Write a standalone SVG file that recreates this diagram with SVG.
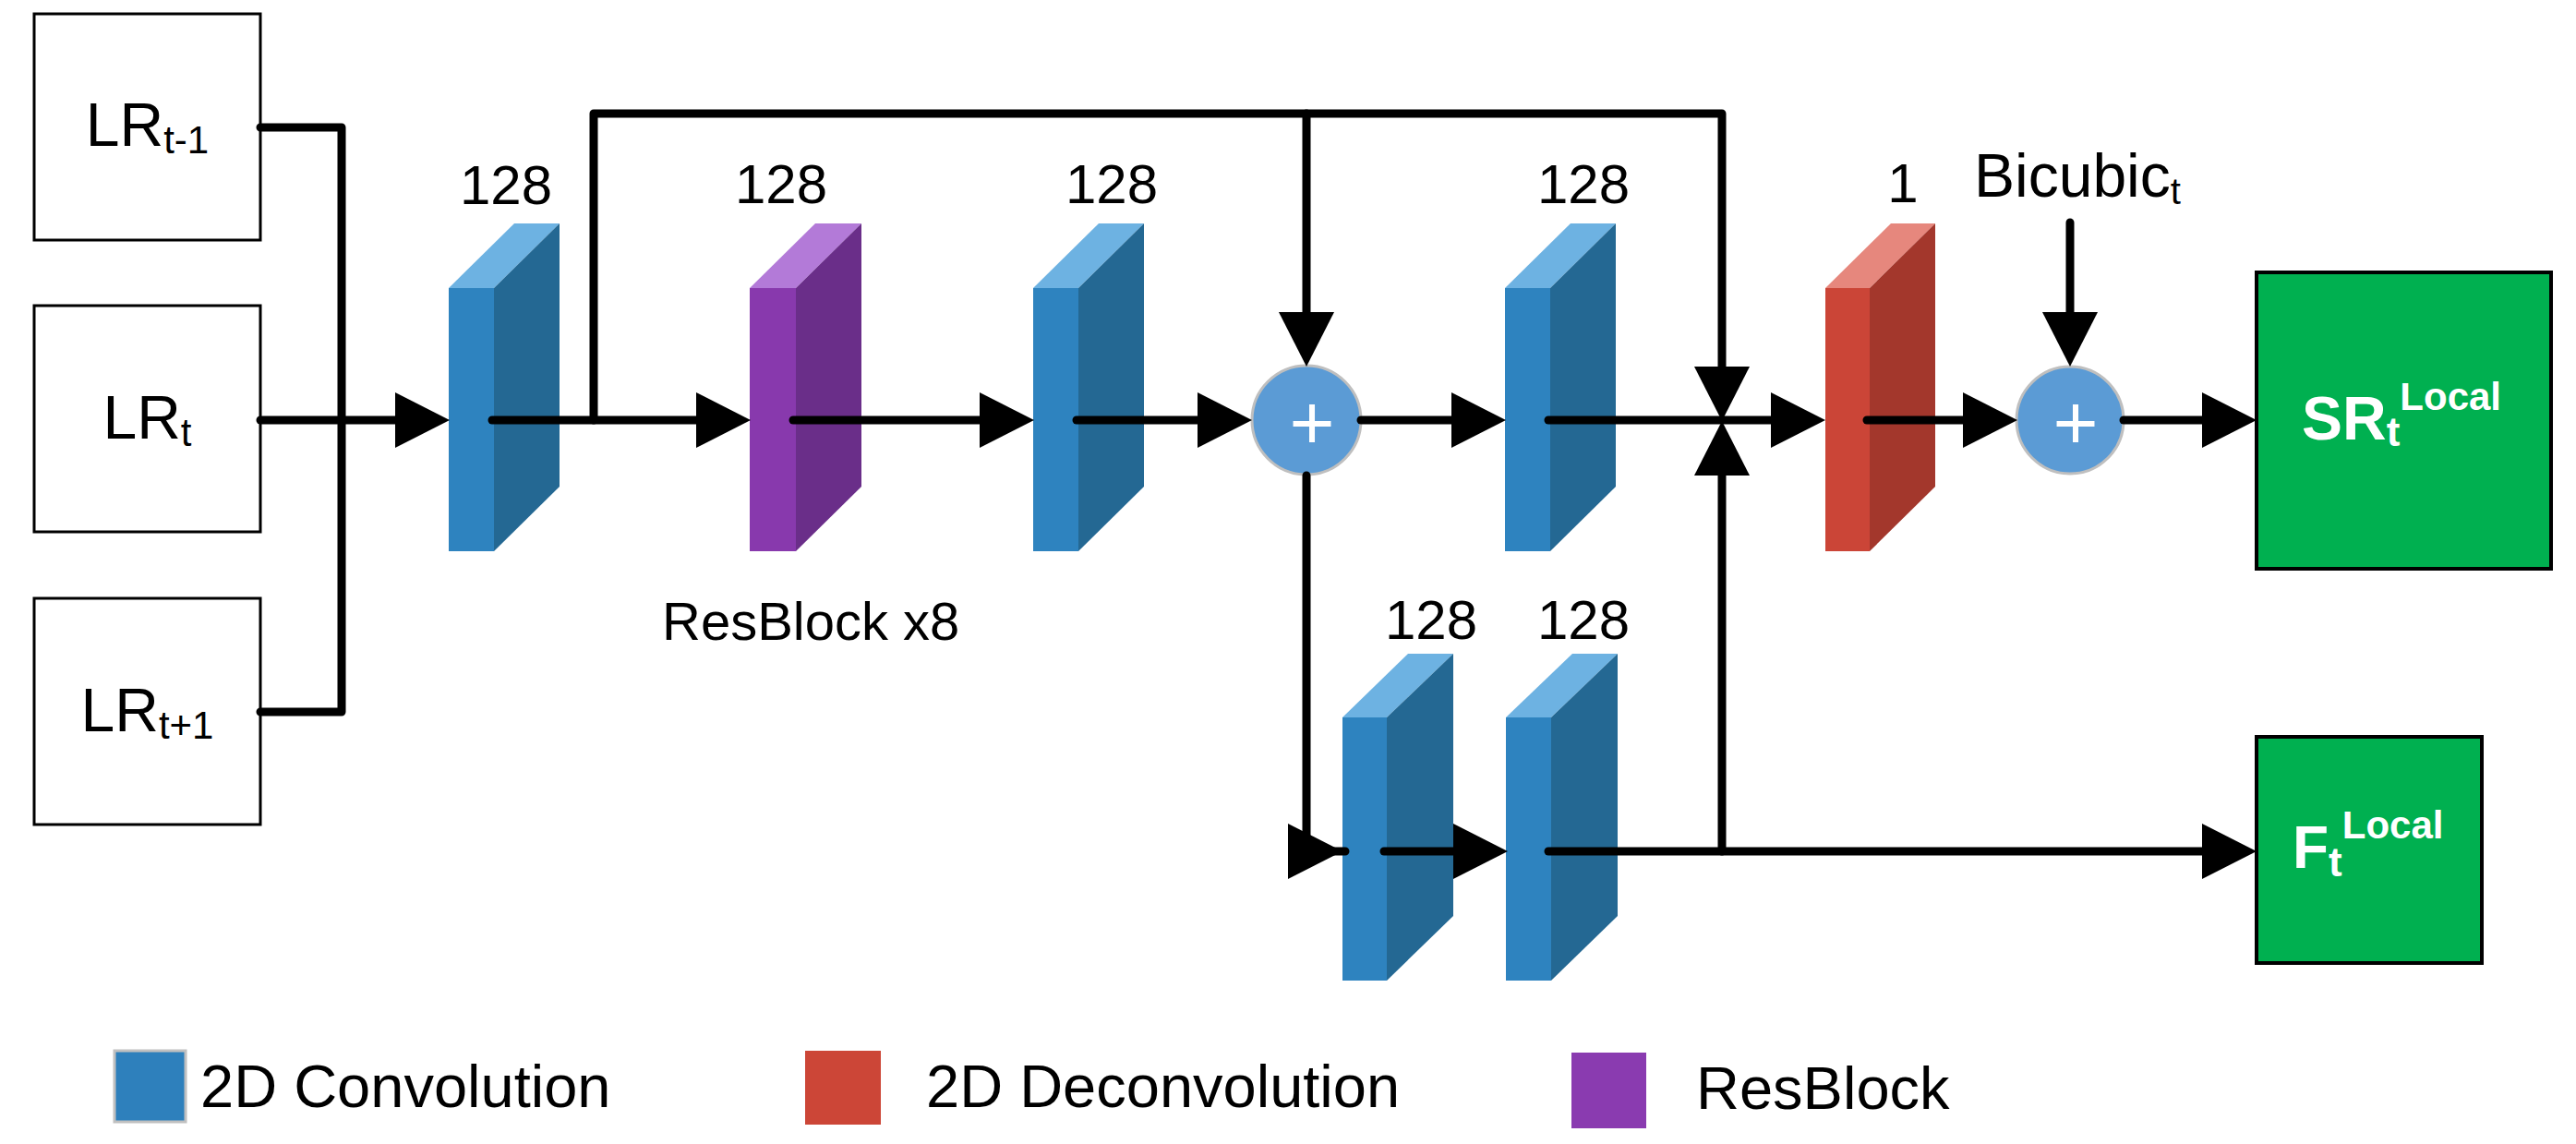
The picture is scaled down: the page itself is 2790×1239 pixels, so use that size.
<svg xmlns="http://www.w3.org/2000/svg" xmlns:xlink="http://www.w3.org/1999/xlink" width="2790" height="1239" viewBox="0 0 2790 1239">
<style>
.ln{fill:none;stroke:#000;stroke-width:9;stroke-linecap:round;stroke-linejoin:round}
.arr{marker-end:url(#ah)}
.nostroke{stroke:none}
.box{fill:#fff;stroke:#000;stroke-width:3}
.out{fill:#00b050;stroke:#000;stroke-width:4}
.t{font-family:"Liberation Sans",Arial,Helvetica,sans-serif;fill:#000}
.num{font-size:60px;text-anchor:middle}
.lr{font-size:66px;text-anchor:middle}
.leg{font-size:65px}
.w{fill:#fff;font-weight:bold}
.plus{fill:#fff;font-size:84px;text-anchor:middle}
.cv-f{fill:#2e83bf}.cv-t{fill:#6db2e2}.cv-s{fill:#246893}
.rb-f{fill:#8839ad}.rb-t{fill:#b37ad8}.rb-s{fill:#6a2e89}
.dc-f{fill:#cb4537}.dc-t{fill:#e6877d}.dc-s{fill:#a3372c}
.add{fill:#5b9bd5;stroke:#bfbfbf;stroke-width:3}
</style>
<defs>
<marker id="ah" markerUnits="userSpaceOnUse" markerWidth="62" markerHeight="64" viewBox="0 -32 62 64" refX="0" refY="0" orient="auto" overflow="visible">
<path d="M0,-30 L59,0 L0,30 Z" fill="#000"/>
</marker>
</defs>
<rect x="0" y="0" width="2790" height="1239" fill="#fff"/>

<!-- inputs -->
<g id="lr-tm1">
<rect class="box" x="37" y="15" width="245" height="245"/>
<text class="t lr" x="159.5" y="158">LR<tspan font-size="42" dy="8">t-1</tspan></text>
</g>
<g id="lr-t">
<rect class="box" x="37" y="331" width="245" height="245"/>
<text class="t lr" x="159.5" y="475">LR<tspan font-size="42" dy="8">t</tspan></text>
</g>
<g id="lr-tp1">
<rect class="box" x="37" y="648" width="245" height="245"/>
<text class="t lr" x="159.5" y="792">LR<tspan font-size="42" dy="8">t+1</tspan></text>
</g>

<!-- conv1 -->
<g id="conv1">
<rect class="cv-f" x="486" y="312" width="49" height="285"/>
<polygon class="cv-t" points="486,312 557,242 606,242 535,312"/>
<polygon class="cv-s" points="535,312 606,242 606,527 535,597"/>
<text class="t num" x="548" y="221">128</text>
</g>

<!-- resblock -->
<g id="resblock">
<rect class="rb-f" x="812" y="312" width="50" height="285"/>
<polygon class="rb-t" points="812,312 883,242 933,242 862,312"/>
<polygon class="rb-s" points="862,312 933,242 933,527 862,597"/>
<text class="t num" x="846" y="220">128</text>
<text class="t" x="717" y="693" font-size="58">ResBlock x8</text>
</g>

<!-- conv2 -->
<g id="conv2">
<rect class="cv-f" x="1119" y="312" width="49" height="285"/>
<polygon class="cv-t" points="1119,312 1190,242 1239,242 1168,312"/>
<polygon class="cv-s" points="1168,312 1239,242 1239,527 1168,597"/>
<text class="t num" x="1204" y="220">128</text>
</g>

<!-- add 1 -->
<g id="add1">
<circle class="add" cx="1415" cy="455" r="59"/>
<text class="t plus" x="1421" y="486">+</text>
</g>

<!-- conv3 -->
<g id="conv3">
<rect class="cv-f" x="1630" y="312" width="49" height="285"/>
<polygon class="cv-t" points="1630,312 1701,242 1750,242 1679,312"/>
<polygon class="cv-s" points="1679,312 1750,242 1750,527 1679,597"/>
<text class="t num" x="1715" y="220">128</text>
</g>

<!-- deconv -->
<g id="deconv">
<rect class="dc-f" x="1977" y="312" width="48" height="285"/>
<polygon class="dc-t" points="1977,312 2048,242 2096,242 2025,312"/>
<polygon class="dc-s" points="2025,312 2096,242 2096,527 2025,597"/>
<text class="t num" x="2061" y="219">1</text>
</g>

<!-- bicubic label -->
<g id="bicubic">
<text class="t" x="2138" y="213" font-size="66">Bicubic<tspan font-size="40" dy="8">t</tspan></text>
</g>

<!-- add 2 -->
<g id="add2">
<circle class="add" cx="2242" cy="455" r="58"/>
<text class="t plus" x="2248" y="486">+</text>
</g>

<!-- SR output -->
<g id="sr-local">
<rect class="out" x="2444" y="295" width="319" height="321"/>
<text class="t w" x="2493" y="476" font-size="66">SR<tspan font-size="44" dy="7">t</tspan><tspan font-size="42" dy="-39">Local</tspan></text>
</g>

<!-- conv A / B (bottom) -->
<g id="convA">
<rect class="cv-f" x="1454" y="777" width="48" height="285"/>
<polygon class="cv-t" points="1454,777 1525,708 1574,708 1502,777"/>
<polygon class="cv-s" points="1502,777 1574,708 1574,992 1502,1062"/>
<text class="t num" x="1550" y="692">128</text>
</g>
<g id="convB">
<rect class="cv-f" x="1631" y="777" width="49" height="285"/>
<polygon class="cv-t" points="1631,777 1703,708 1752,708 1680,777"/>
<polygon class="cv-s" points="1680,777 1752,708 1752,992 1680,1062"/>
<text class="t num" x="1715" y="692">128</text>
</g>

<!-- F output -->
<g id="f-local">
<rect class="out" x="2444" y="798" width="244" height="245"/>
<text class="t w" x="2483" y="940" font-size="64">F<tspan font-size="44" dy="9">t</tspan><tspan font-size="42" dy="-41">Local</tspan></text>
</g>

<!-- legend -->
<g id="legend">
<rect x="124" y="1138" width="77" height="77" fill="#2e80bc" stroke="#c0c0c0" stroke-width="3"/>
<text class="t leg" x="217" y="1199">2D Convolution</text>
<rect x="872" y="1138" width="82" height="80" fill="#cc4637"/>
<text class="t leg" x="1003" y="1199">2D Deconvolution</text>
<rect x="1702" y="1140" width="81" height="82" fill="#8a3bb0"/>
<text class="t leg" x="1837" y="1201">ResBlock</text>
</g>

<!-- connectors -->
<g id="connectors">
<path class="ln" d="M282,138 H370 V771 H282"/>
<path class="ln arr" d="M282,455 H428"/>
<path class="ln arr" d="M533,455 H754"/>
<path class="ln arr" d="M643,455 V123 H1865 V397"/>
<path class="ln arr" d="M1415,123 V338"/>
<path class="ln arr" d="M859,455 H1061"/>
<path class="ln arr" d="M1166,455 H1297"/>
<path class="ln arr" d="M1474,455 H1572"/>
<path class="ln" d="M1415,515 V922 H1457"/>
<path class="ln arr nostroke" d="M1393,922 H1395"/>
<path class="ln arr" d="M1499,922 H1574"/>
<path class="ln arr" d="M1677,922 H2385"/>
<path class="ln arr" d="M1865,922 V515"/>
<path class="ln arr" d="M1677,455 H1918"/>
<path class="ln arr" d="M2022,455 H2126"/>
<path class="ln arr" d="M2242,241 V338"/>
<path class="ln arr" d="M2300,455 H2385"/>
</g>
</svg>
